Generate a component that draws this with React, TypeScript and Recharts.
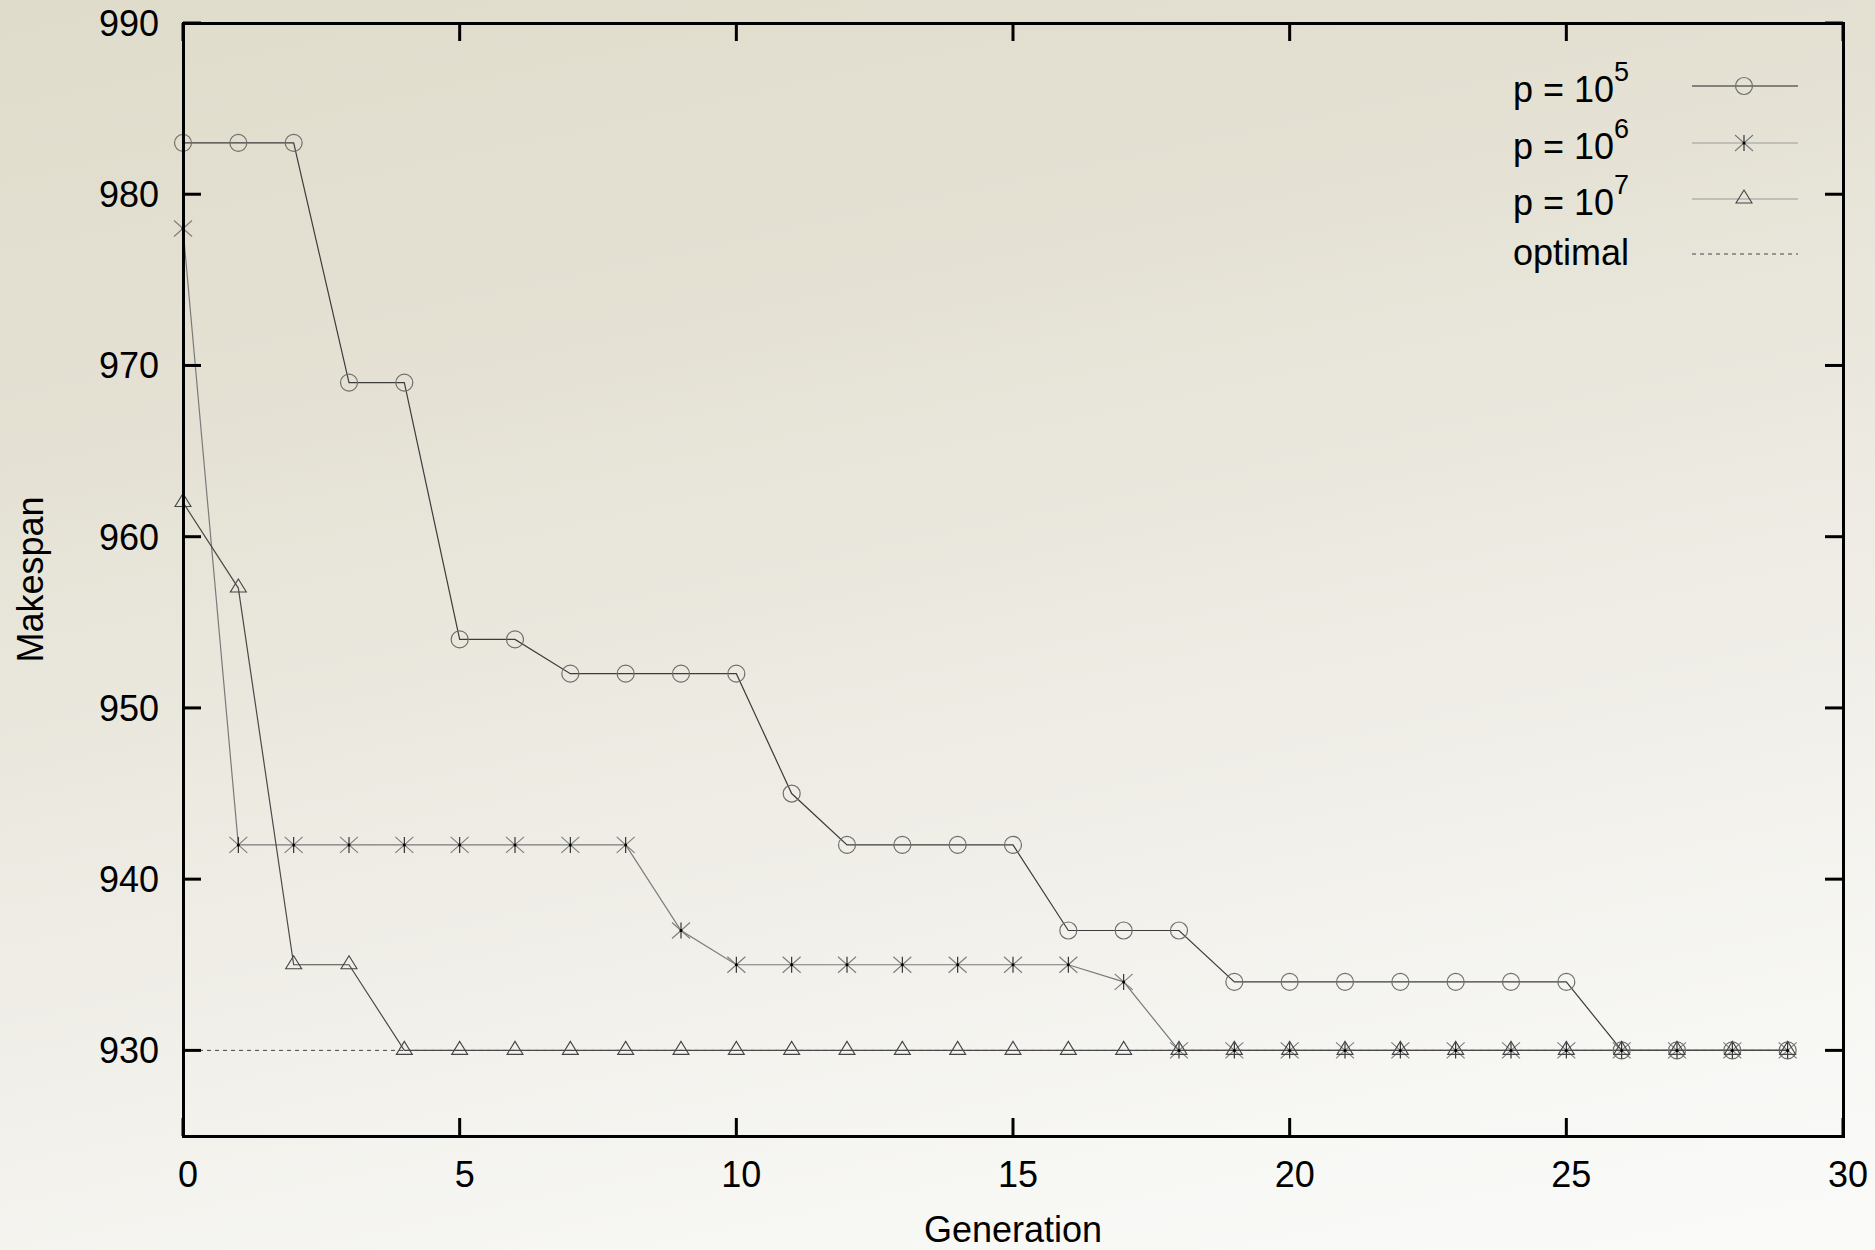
import React from 'react';
import { LineChart, Line, XAxis, YAxis, Legend, Label } from 'recharts';

// generation index on the x axis
const generations = [
  0, 1, 2, 3, 4, 5, 6, 7, 8, 9, 10, 11, 12, 13, 14, 15, 16, 17, 18, 19, 20, 21, 22, 23, 24, 25, 26, 27, 28, 29,
];

// best makespan per generation for each population size
const p5 = [
  983, 983, 983, 969, 969, 954, 954, 952, 952, 952, 952, 945, 942, 942, 942, 942, 937, 937, 937, 934, 934, 934, 934,
  934, 934, 934, 930, 930, 930, 930,
];
const p6 = [
  978, 942, 942, 942, 942, 942, 942, 942, 942, 937, 935, 935, 935, 935, 935, 935, 935, 934, 930, 930, 930, 930, 930,
  930, 930, 930, 930, 930, 930, 930,
];
const p7 = [
  962, 957, 935, 935, 930, 930, 930, 930, 930, 930, 930, 930, 930, 930, 930, 930, 930, 930, 930, 930, 930, 930, 930,
  930, 930, 930, 930, 930, 930, 930,
];
const optimal = 930;

const xTicks = [0, 5, 10, 15, 20, 25, 30];
const yTicks = [930, 940, 950, 960, 970, 980, 990];
const legendExponents = ['5', '6', '7'];

const data = generations.map((g, i) => ({ gen: g, p5: p5[i], p6: p6[i], p7: p7[i], optimal }));

const W = 1875;
const H = 1250;
const PLOT_LEFT = 183;
const PLOT_TOP = 23;
const PLOT_RIGHT = 1843;
const PLOT_BOTTOM = 1136;
const TICK = 18;
const FONT = '"Liberation Sans", Arial, sans-serif';

const CircleDot = ({ cx, cy }: any) => (
  <circle cx={cx} cy={cy} r={8.5} fill="none" stroke="#6e6e6e" strokeWidth={1.2} />
);

const StarDot = ({ cx, cy }: any) => (
  <g>
    <line x1={cx - 9} y1={cy - 8} x2={cx + 9} y2={cy + 8} stroke="#7c7c7c" strokeWidth={1.1} />
    <line x1={cx + 9} y1={cy - 8} x2={cx - 9} y2={cy + 8} stroke="#7c7c7c" strokeWidth={1.1} />
    <line x1={cx} y1={cy - 8} x2={cx} y2={cy + 8} stroke="#222" strokeWidth={1.1} />
    <circle cx={cx} cy={cy} r={1.5} fill="#000" />
  </g>
);

const TriangleDot = ({ cx, cy }: any) => (
  <polygon
    points={`${cx},${cy - 9} ${cx - 8},${cy + 4} ${cx + 8},${cy + 4}`}
    fill="none"
    stroke="#444"
    strokeWidth={1.1}
  />
);

const YTick = ({ x, y, payload }: any) => (
  <g>
    <text x={x - 24} y={y + 13} textAnchor="end" fontSize={36} fill="#000" fontFamily={FONT}>
      {payload.value}
    </text>
    <line x1={x} x2={x + TICK} y1={y} y2={y} stroke="#000" strokeWidth={3} />
    <line x1={PLOT_RIGHT - TICK} x2={PLOT_RIGHT} y1={y} y2={y} stroke="#000" strokeWidth={3} />
  </g>
);

const XTick = ({ x, y, payload }: any) => (
  <g>
    <text x={x + 5} y={y + 51} textAnchor="middle" fontSize={36} fill="#000" fontFamily={FONT}>
      {payload.value}
    </text>
    <line x1={x} x2={x} y1={y - TICK} y2={y} stroke="#000" strokeWidth={3} />
    <line x1={x} x2={x} y1={PLOT_TOP} y2={PLOT_TOP + TICK} stroke="#000" strokeWidth={3} />
  </g>
);

const LegendBox = () => {
  const rows = [46, 103, 159];
  const markers = [CircleDot, StarDot, TriangleDot];
  const strokes = ['#222', '#999', '#999'];
  return (
    <svg width={360} height={250} style={{ fontFamily: FONT }}>
      {legendExponents.map((e, i) => {
        const M = markers[i];
        return (
          <g key={e}>
            <text x={13} y={rows[i] + 16} fontSize={36} fill="#000">
              p = 10
              <tspan dy={-21} fontSize={27}>
                {e}
              </tspan>
            </text>
            <line x1={192} x2={298} y1={rows[i]} y2={rows[i]} stroke={strokes[i]} strokeWidth={1.2} />
            <M cx={244} cy={rows[i]} />
          </g>
        );
      })}
      <text x={13} y={225} fontSize={36} fill="#000">
        optimal
      </text>
      <line x1={192} x2={298} y1={214} y2={214} stroke="#444" strokeWidth={1} strokeDasharray="4 4" />
    </svg>
  );
};

export default function App() {
  return (
    <div
      style={{
        position: 'absolute',
        left: 0,
        top: 0,
        width: W,
        height: H,
        background: 'linear-gradient(168deg, #dfdccb 0%, #e5e2d5 30%, #efede6 60%, #f7f7f4 85%, #fafaf9 100%)',
        fontFamily: FONT,
      }}
    >
      <LineChart
        width={W}
        height={H}
        data={data}
        margin={{ top: PLOT_TOP, right: W - PLOT_RIGHT, left: PLOT_LEFT - 100, bottom: H - PLOT_BOTTOM - 100 }}
      >
        <XAxis
          dataKey="gen"
          type="number"
          domain={[0, 30]}
          ticks={xTicks}
          height={100}
          axisLine={false}
          tickLine={false}
          tickSize={0}
          tickMargin={0}
          tick={<XTick />}
          interval={0}
        >
          <Label
            content={({ viewBox }: any) => (
              <text
                x={viewBox.x + viewBox.width / 2}
                y={viewBox.y + 106}
                textAnchor="middle"
                fontSize={36}
                fill="#000"
                fontFamily={FONT}
              >
                Generation
              </text>
            )}
          />
        </XAxis>
        <YAxis
          type="number"
          domain={[925, 990]}
          ticks={yTicks}
          width={100}
          axisLine={false}
          tickLine={false}
          tickSize={0}
          tickMargin={0}
          tick={<YTick />}
          interval={0}
          allowDataOverflow
        >
          <Label
            content={({ viewBox }: any) => (
              <text
                x={viewBox.x - 40}
                y={viewBox.y + viewBox.height / 2}
                textAnchor="middle"
                fontSize={36}
                fill="#000"
                fontFamily={FONT}
                transform={`rotate(-90 ${viewBox.x - 40} ${viewBox.y + viewBox.height / 2})`}
              >
                Makespan
              </text>
            )}
          />
        </YAxis>
        <Legend
          layout="vertical"
          align="center"
          verticalAlign="middle"
          content={() => <LegendBox />}
          wrapperStyle={{ left: 1500, top: 40, width: 360, height: 250 }}
        />
        <Line
          dataKey="optimal"
          stroke="#444"
          strokeWidth={1}
          strokeDasharray="4 4"
          dot={false}
          isAnimationActive={false}
          legendType="none"
        />
        <Line
          dataKey="p5"
          stroke="#3c3c3c"
          strokeWidth={1.2}
          dot={(p: any) => <CircleDot key={`c${p.index}`} cx={p.cx} cy={p.cy} />}
          isAnimationActive={false}
        />
        <Line
          dataKey="p6"
          stroke="#7a7a7a"
          strokeWidth={1.2}
          dot={(p: any) => <StarDot key={`s${p.index}`} cx={p.cx} cy={p.cy} />}
          isAnimationActive={false}
        />
        <Line
          dataKey="p7"
          stroke="#4a4a4a"
          strokeWidth={1.2}
          dot={(p: any) => <TriangleDot key={`t${p.index}`} cx={p.cx} cy={p.cy} />}
          isAnimationActive={false}
        />
      </LineChart>
      <div
        style={{
          position: 'absolute',
          left: PLOT_LEFT - 1.5,
          top: PLOT_TOP - 1.5,
          width: PLOT_RIGHT - PLOT_LEFT + 3,
          height: PLOT_BOTTOM - PLOT_TOP + 3,
          border: '3px solid #000',
          boxSizing: 'border-box',
          pointerEvents: 'none',
        }}
      />
    </div>
  );
}
